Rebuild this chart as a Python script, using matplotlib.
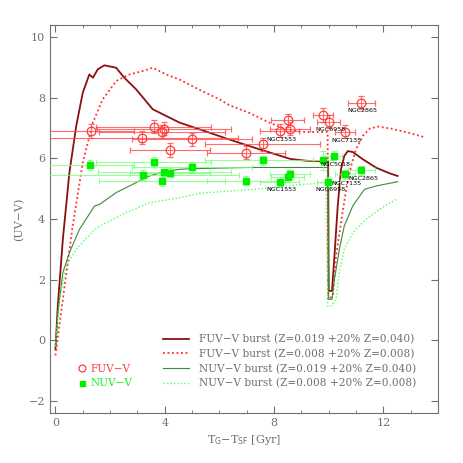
import matplotlib
matplotlib.use('Agg')
import matplotlib.pyplot as plt

# observed galaxies: age since star formation (Gyr) and colours
fuv_age = [1.29, 3.59, 3.98, 3.90, 3.17, 5.00, 4.19, 6.98, 7.59, 8.20, 8.59, 8.50, 9.78, 10.00, 10.61, 11.20]
fuv_col = [6.90, 7.05, 6.98, 6.88, 6.68, 6.63, 6.28, 6.19, 6.46, 6.91, 6.98, 7.25, 7.43, 7.21, 6.88, 7.84]
fuv_xerr = [1.6, 2.1, 2.45, 2.3, 3.5, 2.2, 1.45, 1.43, 2.1, 0.73, 0.73, 0.6, 0.37, 0.43, 0.37, 0.49]

nuv_age = [1.28, 3.60, 3.99, 3.90, 3.20, 5.00, 4.19, 6.98, 7.59, 8.20, 8.59, 8.50, 9.78, 9.99, 10.60, 11.20, 10.18]
nuv_col = [5.78, 5.89, 5.56, 5.25, 5.45, 5.71, 5.53, 5.27, 5.93, 5.23, 5.47, 5.38, 5.93, 5.22, 5.47, 5.61, 6.08]
nuv_xerr = [1.6, 2.1, 2.45, 2.3, 3.5, 2.2, 1.45, 1.43, 2.1, 0.73, 0.73, 0.6, 0.37, 0.43, 0.37, 0.49, 0.3]
nuv_yerr = [0.15, 0.15, 0.15, 0.15, 0.15, 0.15, 0.15, 0.15, 0.15, 0.15, 0.15, 0.15, 0.3, 0.15, 0.15, 0.15, 0.15]

# model tracks
fuv19_x = [0, 0.085, 0.27, 0.51, 0.76, 1.0, 1.24, 1.37, 1.55, 1.79, 2.22, 2.52, 2.95, 3.56, 4.54, 5.27, 6.37,
           7.46, 8.0, 8.6, 9.2, 9.98, 10.0, 10.12, 10.21, 10.33, 10.45, 10.57, 10.70, 10.88, 11.25, 11.74, 12.22, 12.52]
fuv19_y = [-0.3, 1.13, 3.33, 5.53, 7.07, 8.17, 8.77, 8.66, 8.94, 9.07, 8.99, 8.66, 8.28, 7.62, 7.18, 6.96, 6.62,
           6.3, 6.15, 5.98, 5.92, 5.9, 1.63, 1.63, 2.78, 4.43, 5.64, 6.08, 6.24, 6.21, 5.97, 5.69, 5.51, 5.42]

fuv08_x = [0, 0.27, 0.63, 1.0, 1.37, 1.73, 2.22, 2.71, 3.19, 3.56, 4.05, 4.54, 5.3, 6.0, 6.37, 7.1, 7.83, 8.44,
           9.05, 9.96, 9.98, 10.15, 10.27, 10.45, 10.64, 10.82, 11.0, 11.25, 11.5, 11.8, 12.3, 12.9, 13.5]
fuv08_y = [-0.5, 1.35, 3.77, 5.86, 7.18, 7.95, 8.55, 8.77, 8.88, 8.99, 8.77, 8.6, 8.25, 7.95, 7.75, 7.5, 7.18, 6.96,
           6.87, 6.87, 1.35, 1.46, 2.78, 3.88, 4.98, 5.75, 6.3, 6.74, 6.98, 7.05, 6.98, 6.85, 6.7]

nuv19_x = [0, 0.09, 0.27, 0.51, 0.88, 1.43, 1.61, 2.22, 2.95, 3.44, 4.05, 4.54, 5.02, 6.0, 7.1, 8.0, 9.0, 9.97,
           10.0, 10.12, 10.21, 10.39, 10.57, 10.88, 11.31, 11.74, 12.52]
nuv19_y = [-0.2, 0.91, 2.23, 2.89, 3.66, 4.43, 4.48, 4.87, 5.2, 5.42, 5.58, 5.64, 5.66, 5.68, 5.7, 5.7, 5.7, 5.7,
           1.35, 1.35, 2.01, 3.0, 3.77, 4.43, 4.98, 5.09, 5.23]

nuv08_x = [0, 0.15, 0.39, 0.76, 1.43, 1.86, 2.59, 3.44, 4.54, 5.27, 6.37, 7.1, 7.57, 8.8, 9.9, 9.96, 10.1,
           10.27, 10.39, 10.57, 10.88, 11.37, 11.86, 12.47]
nuv08_y = [-0.2, 1.35, 2.45, 3.0, 3.66, 3.88, 4.21, 4.54, 4.7, 4.85, 4.92, 4.97, 5.0, 5.12, 5.2, 1.13, 1.13,
           1.35, 2.23, 3.0, 3.55, 3.99, 4.32, 4.65]

model_labels = ['FUV\u2212V burst (Z=0.019 +20% Z=0.040)',
                'FUV\u2212V burst (Z=0.008 +20% Z=0.008)',
                'NUV\u2212V burst (Z=0.019 +20% Z=0.040)',
                'NUV\u2212V burst (Z=0.008 +20% Z=0.008)']

# galaxy names and where they sit
ngc_names = ['NGC2865', 'NGC6958', 'NGC7135', 'NGC1553', 'NGC5018', 'NGC7135', 'NGC2865', 'NGC6958', 'NGC1553']
ngc_x = [11.24, 10.06, 10.65, 8.27, 10.25, 10.65, 11.27, 10.06, 8.27]
ngc_y = [7.59, 6.96, 6.60, 6.63, 5.80, 5.18, 5.33, 4.98, 4.98]

grey = '#707070'
plt.rcParams['font.family'] = ['DejaVu Serif']

fig = plt.figure(figsize=(4.63, 4.63), dpi=100)
ax = fig.add_axes([50/463, 1-413/463, 388/463, 388/463])

l1, = ax.plot(fuv19_x, fuv19_y, color='#8b1010', lw=1.3)
l2, = ax.plot(fuv08_x, fuv08_y, color='#ff2a2a', lw=1.3, ls=(0, (1, 1.5)))
l3, = ax.plot(nuv19_x, nuv19_y, color='#3a8a3a', lw=0.8)
l4, = ax.plot(nuv08_x, nuv08_y, color='#55ff55', lw=1.0, ls=(0, (1, 1.5)))

eb_f = ax.errorbar(fuv_age, fuv_col, xerr=fuv_xerr, yerr=0.22, fmt='o', ms=6.2, mfc='none', mec='#ff3b3b',
                   mew=0.9, ecolor='#ff4a4a', elinewidth=0.8, capsize=2.5, capthick=0.8, zorder=4)
eb_n = ax.errorbar(nuv_age, nuv_col, xerr=nuv_xerr, yerr=nuv_yerr, fmt='s', ms=4.5, mfc='#00ee00', mec='#00ee00',
                   ecolor='#7cff7c', elinewidth=0.8, capsize=2.5, capthick=0.8, zorder=4)
for part in eb_f[1] + eb_f[2]:
    part.set_alpha(0.8)
for part in eb_n[1] + eb_n[2]:
    part.set_alpha(0.8)

for name, x, y in zip(ngc_names, ngc_x, ngc_y):
    ax.text(x, y, name, fontsize=4.6, family='DejaVu Sans', ha='center', va='center', color='black', zorder=5)

ax.set_xlim(-0.2, 14)
ax.set_ylim(-2.4, 10.4)
ax.set_xticks([0, 4, 8, 12])
ax.set_xticks(range(0, 14), minor=True)
ax.set_yticks([-2, 0, 2, 4, 6, 8, 10])
ax.tick_params(which='both', direction='in', top=True, right=True, colors=grey, labelsize=8)
ax.tick_params(which='major', length=5)
ax.tick_params(which='minor', length=2.5)
for sp in ax.spines.values():
    sp.set_color(grey)
    sp.set_linewidth(0.8)

ax.set_xlabel(r'T$_{\rm G}$$-$T$_{\rm SF}$ [Gyr]', fontsize=8, color=grey)
ax.set_ylabel('(UV\u2212V)', fontsize=8, color=grey, labelpad=3)

leg1 = ax.legend([l1, l2, l3, l4], model_labels, loc='upper left', bbox_to_anchor=(163/463, 1-334/463),
                 bbox_transform=fig.transFigure, frameon=False, fontsize=7.6, handlelength=2.5,
                 handletextpad=0.95, labelspacing=0.42, borderpad=0, borderaxespad=0, labelcolor=grey)
ax.add_artist(leg1)
ax.legend([eb_f[0], eb_n[0]], ['FUV\u2212V', 'NUV\u2212V'], loc='upper left',
          bbox_to_anchor=(78/463, 1-364/463), bbox_transform=fig.transFigure, frameon=False, fontsize=7.6,
          handlelength=0.8, handletextpad=0.4, labelspacing=0.42, borderpad=0, borderaxespad=0,
          labelcolor=['#ff4040', '#22ee22'], markerscale=0.8)

fig.savefig('out.png', dpi=100)
